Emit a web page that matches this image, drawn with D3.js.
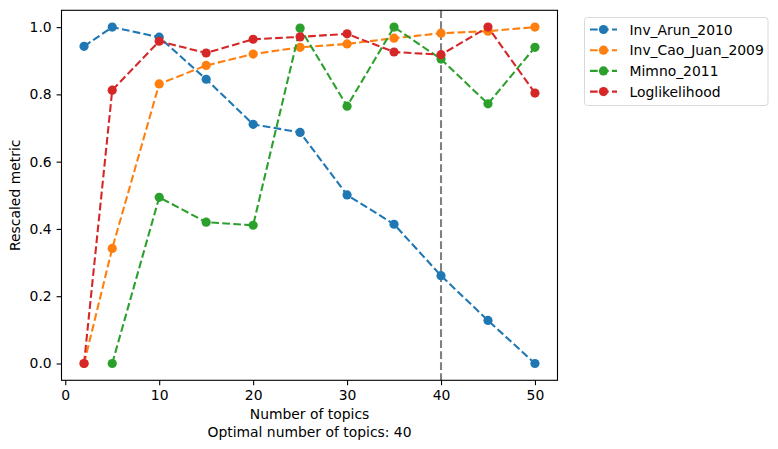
<!DOCTYPE html>
<html>
<head>
<meta charset="utf-8">
<script src="https://cdn.jsdelivr.net/npm/d3@7"></script>
<style>
  body { margin: 0; background: #fff; }
  svg { font-family: 'DejaVu Sans', sans-serif; }
</style>
</head>
<body>
<div id="chart"></div>
<script>
'use strict';

var topics = [2, 5, 10, 15, 20, 25, 30, 35, 40, 45, 50];
var invArun = [0.943, 1.0, 0.970, 0.845, 0.711, 0.687, 0.501, 0.414, 0.261, 0.128, 0.0];
var invCaoJuan = [0.0, 0.342, 0.831, 0.886, 0.920, 0.940, 0.950, 0.967, 0.982, 0.988, 1.0];
var mimno = [null, 0.0, 0.494, 0.420, 0.411, 0.997, 0.765, 1.0, 0.905, 0.772, 0.940];
var loglik = [0.0, 0.8125, 0.958, 0.923, 0.964, 0.971, 0.980, 0.926, 0.918, 1.0, 0.804];
var seriesNames = ['Inv_Arun_2010', 'Inv_Cao_Juan_2009', 'Mimno_2011', 'Loglikelihood'];
var seriesColors = ['#1f77b4', '#ff7f0e', '#2ca02c', '#d62728'];
var xTicks = [0, 10, 20, 30, 40, 50];
var yTicks = [0.0, 0.2, 0.4, 0.6, 0.8, 1.0];
var optimalTopics = 40;

var chartHelper = {
  draw: function() {
    var w, h, pLeft, pRight, pTop, pBottom, svg, x, y, allSeries, lw, r, line,
      xAxis, yAxis, legend;

    w = 778;
    h = 449;
    pLeft = 61.5;
    pRight = 557.5;
    pTop = 10.3;
    pBottom = 380.3;
    lw = 2.08;
    r = 4.6;

    svg = d3.select('#chart').append('svg')
      .attr('width', w)
      .attr('height', h);

    x = d3.scaleLinear().domain([-0.4, 52.4]).range([pLeft, pRight]);
    y = d3.scaleLinear().domain([-0.05, 1.05]).range([pBottom, pTop]);

    allSeries = [invArun, invCaoJuan, mimno, loglik];

    // vertical line at the optimum
    svg.append('line')
      .attr('x1', x(optimalTopics)).attr('x2', x(optimalTopics))
      .attr('y1', pTop).attr('y2', pBottom)
      .attr('stroke', '#808080')
      .attr('stroke-width', lw)
      .attr('stroke-dasharray', '7.7,3.3');

    line = d3.line()
      .x(function(d) { return x(d[0]); })
      .y(function(d) { return y(d[1]); });

    allSeries.forEach(function(vals, i) {
      var pts, g;
      pts = topics.map(function(t, j) { return [t, vals[j]]; })
        .filter(function(p) { return p[1] !== null; });
      g = svg.append('g');
      g.append('path')
        .attr('d', line(pts))
        .attr('fill', 'none')
        .attr('stroke', seriesColors[i])
        .attr('stroke-width', lw)
        .attr('stroke-dasharray', '7.7,3.3');
      g.selectAll('circle')
        .data(pts)
        .enter().append('circle')
        .attr('cx', function(d) { return x(d[0]); })
        .attr('cy', function(d) { return y(d[1]); })
        .attr('r', r)
        .attr('fill', seriesColors[i]);
    });

    // axes
    xAxis = svg.append('g')
      .attr('transform', 'translate(0,' + pBottom + ')')
      .call(d3.axisBottom(x).tickValues(xTicks).tickSize(4.9).tickPadding(4.9)
        .tickFormat(d3.format('d')));
    yAxis = svg.append('g')
      .attr('transform', 'translate(' + pLeft + ',0)')
      .call(d3.axisLeft(y).tickValues(yTicks).tickSize(4.9).tickPadding(4.9)
        .tickFormat(d3.format('.1f')));

    [xAxis, yAxis].forEach(function(a) {
      a.select('.domain').remove();
      a.selectAll('line').attr('stroke', '#000').attr('stroke-width', 1.1);
      a.selectAll('text').attr('font-size', 13.9).attr('fill', '#000')
        .attr('font-family', 'DejaVu Sans, sans-serif');
    });

    // frame
    svg.append('rect')
      .attr('x', pLeft).attr('y', pTop)
      .attr('width', pRight - pLeft).attr('height', pBottom - pTop)
      .attr('fill', 'none')
      .attr('stroke', '#000')
      .attr('stroke-width', 1.1);

    // labels
    svg.append('text')
      .attr('x', (pLeft + pRight) / 2).attr('y', 419)
      .attr('text-anchor', 'middle')
      .attr('font-size', 13.9)
      .text('Number of topics');
    svg.append('text')
      .attr('x', (pLeft + pRight) / 2).attr('y', 436.5)
      .attr('text-anchor', 'middle')
      .attr('font-size', 13.9)
      .text('Optimal number of topics: ' + optimalTopics);
    svg.append('text')
      .attr('transform', 'translate(20,' + (pTop + pBottom) / 2 + ') rotate(-90)')
      .attr('text-anchor', 'middle')
      .attr('font-size', 13.9)
      .text('Rescaled metric');

    // legend
    legend = svg.append('g');
    legend.append('rect')
      .attr('x', 584.5).attr('y', 17.5)
      .attr('width', 183.5).attr('height', 88)
      .attr('rx', 3)
      .attr('fill', '#fff')
      .attr('stroke', '#d9d9d9')
      .attr('stroke-width', 1);

    seriesNames.forEach(function(name, i) {
      var ly = 29.5 + i * 20.7;
      legend.append('line')
        .attr('x1', 590).attr('x2', 617)
        .attr('y1', ly).attr('y2', ly)
        .attr('stroke', seriesColors[i])
        .attr('stroke-width', lw)
        .attr('stroke-dasharray', '7.7,3.3');
      legend.append('circle')
        .attr('cx', 603.5).attr('cy', ly).attr('r', r)
        .attr('fill', seriesColors[i]);
      legend.append('text')
        .attr('x', 629.5).attr('y', ly + 5)
        .attr('font-size', 13.9)
        .text(name);
    });
  }
};

chartHelper.draw();
</script>
</body>
</html>
